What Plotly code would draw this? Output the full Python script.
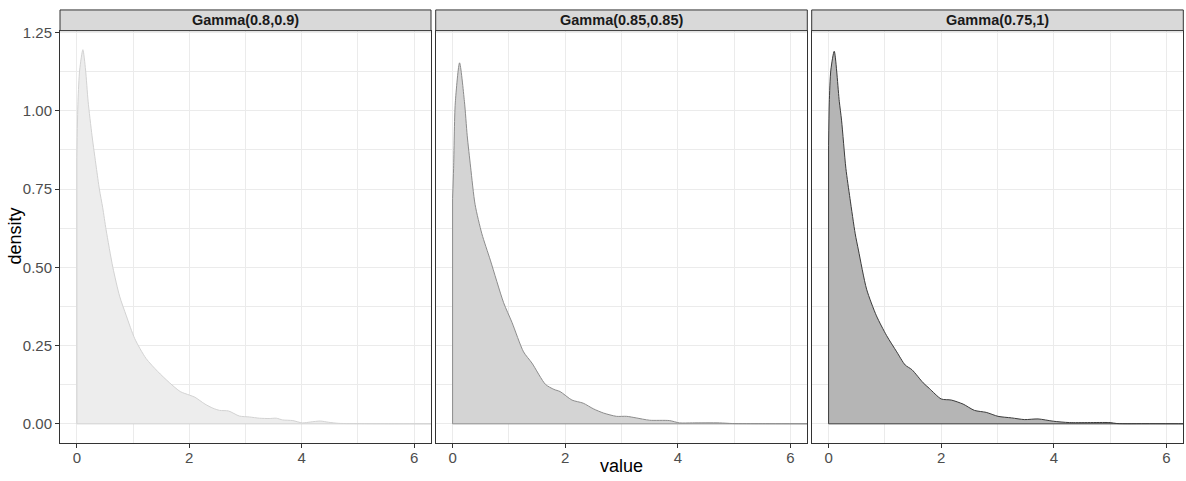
import plotly.graph_objects as go

# Facet titles
facet_labels = ["Gamma(0.8,0.9)", "Gamma(0.85,0.85)", "Gamma(0.75,1)"]

# Kernel density estimates per facet (value, density)
value_g1 = [0.0, 0.02, 0.05, 0.107, 0.155, 0.2, 0.27, 0.345, 0.40, 0.46, 0.52, 0.64,
            0.76, 0.88, 1.03, 1.23, 1.44, 1.65, 1.84, 2.0, 2.1, 2.28, 2.42, 2.54,
            2.70, 2.89, 3.07, 3.25, 3.42, 3.55, 3.66, 3.84, 4.01, 4.16, 4.33, 4.48,
            4.66, 5.07, 5.6, 6.5]
density_g1 = [0.85, 1.03, 1.13, 1.195, 1.13, 1.03, 0.92, 0.82, 0.75, 0.69, 0.62, 0.50,
              0.408, 0.345, 0.272, 0.209, 0.167, 0.131, 0.103, 0.092, 0.085, 0.063, 0.05, 0.043,
              0.041, 0.025, 0.022, 0.018, 0.017, 0.018, 0.0125, 0.0105, 0.003, 0.006, 0.009, 0.005,
              0.0015, 0.0007, 0.0003, 0.0001]

value_g2 = [0.0, 0.018, 0.048, 0.124, 0.21, 0.26, 0.32, 0.40, 0.52, 0.67, 0.906, 1.055,
            1.26, 1.41, 1.65, 1.8, 1.91, 2.12, 2.32, 2.5, 2.68, 2.91, 3.09, 3.26,
            3.5, 3.85, 4.03, 4.26, 4.74, 4.97, 5.5, 6.5]
density_g2 = [0.72, 0.816, 1.025, 1.153, 1.03, 0.92, 0.82, 0.70, 0.607, 0.523, 0.387, 0.324,
              0.23, 0.194, 0.126, 0.11, 0.103, 0.076, 0.066, 0.048, 0.0345, 0.024, 0.024, 0.019,
              0.0115, 0.0105, 0.003, 0.003, 0.003, 0.001, 0.0005, 0.0002]

value_g3 = [0.0, 0.012, 0.04, 0.10, 0.19, 0.23, 0.307, 0.38, 0.473, 0.53, 0.675, 0.85,
            1.03, 1.21, 1.36, 1.48, 1.68, 1.79, 2.0, 2.18, 2.39, 2.59, 2.8, 3.01,
            3.25, 3.48, 3.72, 3.99, 4.28, 5.0, 5.12, 5.7, 6.5]
density_g3 = [0.89, 1.025, 1.13, 1.19, 1.03, 0.97, 0.816, 0.72, 0.607, 0.555, 0.43, 0.345,
              0.282, 0.23, 0.188, 0.173, 0.131, 0.113, 0.0795, 0.076, 0.063, 0.043, 0.0366, 0.024,
              0.019, 0.0136, 0.0157, 0.0084, 0.004, 0.004, 0.001, 0.0005, 0.0002]

x_tick_vals = [0, 2, 4, 6]
y_tick_vals = [0.0, 0.25, 0.5, 0.75, 1.0, 1.25]
y_tick_text = ["0.00", "0.25", "0.50", "0.75", "1.00", "1.25"]

series = [(value_g1, density_g1), (value_g2, density_g2), (value_g3, density_g3)]
fill_colors = ["#EDEDED", "#D4D4D4", "#B5B5B5"]
line_colors = ["#D2D2D2", "#8C8C8C", "#3A3A3A"]

W, H = 1186, 481
panel_px = [(60, 431), (435.7, 807.3), (811.7, 1183.3)]
plot_top_px, plot_bottom_px, strip_top_px = 24, 442, 3
y_dom = [1 - plot_bottom_px / H, 1 - plot_top_px / H]
strip_y = [1 - plot_top_px / H, 1 - strip_top_px / H]

FONT = "Liberation Sans, Arial, sans-serif"
fig = go.Figure()

for i, ((xs, ys), fc, lc) in enumerate(zip(series, fill_colors, line_colors)):
    ax = "" if i == 0 else str(i + 1)
    fig.add_trace(go.Scatter(
        x=xs, y=ys, mode="lines", fill="tozeroy", fillcolor=fc,
        line=dict(color=lc, width=1, shape="spline", smoothing=0.7),
        xaxis="x" + ax, yaxis="y" + ax, showlegend=False, hoverinfo="skip"))
    # left edge and baseline of the density polygon
    fig.add_trace(go.Scatter(
        x=[xs[0], xs[0], xs[-1]], y=[ys[0], 0, 0], mode="lines",
        line=dict(color=lc, width=1),
        xaxis="x" + ax, yaxis="y" + ax, showlegend=False, hoverinfo="skip"))

layout = dict(
    width=W, height=H, margin=dict(l=0, r=0, t=0, b=0),
    paper_bgcolor="white", plot_bgcolor="white",
    font=dict(family=FONT, color="#4D4D4D"),
    shapes=[], annotations=[],
)

for i, (x0, x1) in enumerate(panel_px):
    ax = "" if i == 0 else str(i + 1)
    dom = [x0 / W, x1 / W]
    layout["xaxis" + ax] = dict(
        domain=dom, range=[-0.3, 6.3], tickvals=x_tick_vals,
        ticks="outside", ticklen=4, tickcolor="#333333", tickwidth=1,
        ticklabelstandoff=-3,
        tickfont=dict(size=15, color="#4D4D4D"),
        showgrid=True, gridcolor="#EBEBEB", gridwidth=1,
        minor=dict(showgrid=True, gridcolor="#EBEBEB", gridwidth=0.6, dtick=1, tick0=0),
        showline=True, linecolor="#333333", linewidth=1, mirror=True,
        zeroline=False, anchor="y" + ax, fixedrange=True)
    layout["yaxis" + ax] = dict(
        domain=y_dom, range=[-0.0598, 1.2558],
        tickvals=y_tick_vals, ticktext=y_tick_text,
        showticklabels=(i == 0), ticks="outside" if i == 0 else "",
        ticklen=4, tickcolor="#333333", tickwidth=1,
        tickfont=dict(size=15, color="#4D4D4D"),
        showgrid=True, gridcolor="#EBEBEB", gridwidth=1,
        minor=dict(showgrid=True, gridcolor="#EBEBEB", gridwidth=0.6, dtick=0.125, tick0=0),
        showline=True, linecolor="#333333", linewidth=1, mirror=True,
        zeroline=False, anchor="x" + ax, fixedrange=True)
    # facet strip
    layout["shapes"].append(dict(
        type="rect", xref="paper", yref="paper",
        x0=dom[0], x1=dom[1], y0=strip_y[0], y1=strip_y[1],
        fillcolor="#D9D9D9", line=dict(color="#333333", width=1), layer="above"))
    layout["annotations"].append(dict(
        text="<b>" + facet_labels[i] + "</b>", xref="paper", yref="paper",
        x=(dom[0] + dom[1]) / 2, y=(strip_y[0] + strip_y[1]) / 2,
        xanchor="center", yanchor="middle", showarrow=False,
        font=dict(size=14.5, color="#1A1A1A", family=FONT)))

# axis titles
layout["annotations"].append(dict(
    text="value", xref="paper", yref="paper",
    x=(panel_px[0][0] + panel_px[2][1]) / 2 / W, y=1 - 466 / H,
    xanchor="center", yanchor="middle", showarrow=False,
    font=dict(size=18, color="#000000", family=FONT)))
layout["annotations"].append(dict(
    text="density", xref="paper", yref="paper",
    x=15 / W, y=1 - (plot_top_px + plot_bottom_px) / 2 / H,
    xanchor="center", yanchor="middle", showarrow=False, textangle=-90,
    font=dict(size=18, color="#000000", family=FONT)))

fig.update_layout(**layout)
fig.write_html("out.html")
